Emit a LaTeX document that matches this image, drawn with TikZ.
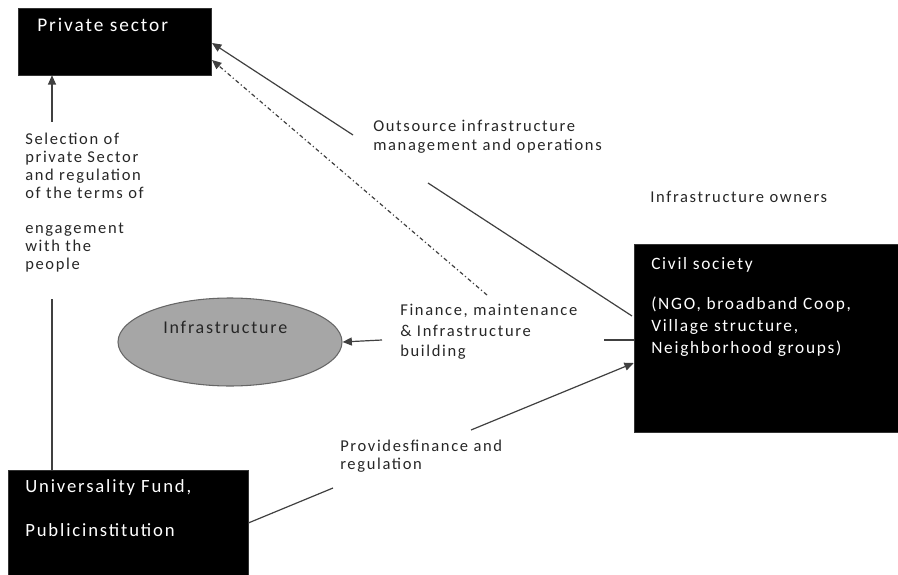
\documentclass[tikz,border=0pt]{standalone}
\usepackage{fontspec}
\setmainfont[LetterSpace=10]{Carlito}
\usetikzlibrary{arrows.meta,shapes.geometric,fit}
\begin{document}
\begin{tikzpicture}[x=0.75pt,y=-0.75pt,
  blackbox/.style={draw=black!80,fill=black,inner sep=0pt},
  wtxt/.style={text=white,anchor=west,inner sep=0pt,font=\fontsize{13}{15}\selectfont},
  btxt/.style={text=black!85,anchor=west,inner sep=0pt,font=\fontsize{12.4}{14}\selectfont},
  conn/.style={draw=black!75,line width=0.9pt},
  arr/.style={conn,-{Triangle[length=7pt,width=6pt]}}]
\useasboundingbox (0,0) rectangle (898,574);
% boxes
\node (ps) [blackbox,fit={(18,8) (211,75)}] {};
\node (uf) [blackbox,fit={(8,470) (248,576)}] {};
\node (cs) [blackbox,fit={(634,244) (898,432)}] {};
\node (inf) [ellipse,draw=black!60,fill=black!35,line width=0.8pt,minimum width=224*0.75pt,minimum height=88*0.75pt,inner sep=0pt] at (230,342) {};
% box texts
\node (pst) [wtxt,font=\fontsize{14.5}{16}\selectfont] at (37,25) {Private sector};
\node (uft1) [wtxt,font=\fontsize{14}{16}\selectfont] at (25,488) {Universality Fund,};
\node (uft2) [wtxt,font=\fontsize{14}{16}\selectfont] at (25,530) {Publicinstitution};
\node (cst1) [wtxt] at (651,265) {Civil society};
\node (cst2) [wtxt] at (651,305) {(NGO, broadband Coop,};
\node (cst3) [wtxt] at (651,327) {Village structure,};
\node (cst4) [wtxt] at (651,349) {Neighborhood groups)};
\node (inft) [btxt,font=\fontsize{13.5}{15}\selectfont] at (163,327) {Infrastructure};
% labels
\node (sel) [btxt,align=left,anchor=north west,font=\fontsize{12.4}{13.5}\selectfont] at (25,133) {Selection of\\private Sector\\and regulation\\of the terms of};
\node (eng) [btxt,align=left,anchor=north west,font=\fontsize{12.4}{13.5}\selectfont] at (25,223) {engagement\\with the\\people};
\node (outs) [btxt,align=left,anchor=north west,font=\fontsize{12.4}{14}\selectfont] at (373,120) {Outsource infrastructure\\management and operations};
\node (own) [btxt] at (650,197) {Infrastructure owners};
\node (fin) [btxt,align=left,anchor=north west,font=\fontsize{12.4}{15.5}\selectfont] at (400,304) {Finance, maintenance\\\& Infrastructure\\building};
\node (prov) [btxt,align=left,anchor=north west,font=\fontsize{12.4}{13}\selectfont] at (340,440) {Providesfinance and\\regulation};
% free ends
\coordinate (a1) at (52,122);
\coordinate (a2) at (52,299);
\coordinate (b1) at (333,488);
\coordinate (b2) at (471,430);
\coordinate (c1) at (382,340);
\coordinate (c2) at (604,340);
\coordinate (d1) at (428,183);
\coordinate (d2) at (353,135);
\coordinate (e1) at (487,295);
\coordinate (t1) at (212,43);
\coordinate (t2) at (212,60);
\coordinate (t3) at (632,316);
% connectors
\draw[arr] (a1) -- (a1 |- ps.south);
\draw[conn] (a2) -- (a2 |- uf.north);
\draw[conn] (uf.east |- 0,523) -- (b1);
\draw[arr] (b2) -- (cs.west |- 0,363);
\draw[arr] (c1) -- (inf.east);
\draw[conn] (c2) -- (c2 -| cs.west);
\draw[conn] (t3) -- (d1);
\draw[arr] (d2) -- (t1);
\draw[arr,dash dot] (e1) -- (t2);
\end{tikzpicture}
\end{document}
